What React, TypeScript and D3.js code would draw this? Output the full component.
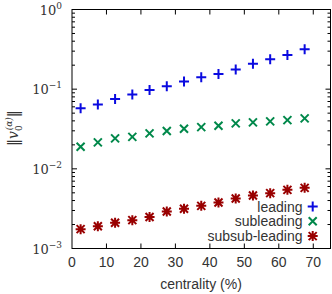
import { useEffect, useRef } from 'react';
import * as d3 from 'd3';

const centrality = [2.5, 7.5, 12.5, 17.5, 22.5, 27.5, 32.5, 37.5, 42.5, 47.5, 52.5, 57.5, 62.5, 67.5];
const leading = [0.0574, 0.0644, 0.0751, 0.086, 0.0975, 0.109, 0.125, 0.141, 0.155, 0.177, 0.209, 0.237, 0.268, 0.316];
const subleading = [0.0189, 0.0215, 0.0241, 0.0252, 0.0279, 0.0298, 0.0318, 0.0334, 0.0347, 0.0372, 0.0383, 0.0394, 0.0409, 0.043];
const subsubleading = [0.00175, 0.0019, 0.0021, 0.00227, 0.00249, 0.00292, 0.00315, 0.00343, 0.00378, 0.00425, 0.00463, 0.00495, 0.00545, 0.00577];
const xTicks = [0, 10, 20, 30, 40, 50, 60, 70];
const yDecades = [-3, -2, -1, 0];
const seriesNames = ['leading', 'subleading', 'subsub-leading'];
const seriesColors = ['#0a0ae0', '#00884a', '#990000'];

export default function App() {
  const svgRef = useRef<SVGSVGElement>(null);

  useEffect(() => {
    if (!svgRef.current) return;
    const svg = d3.select(svgRef.current);
    svg.selectAll('*').remove();

    const left = 72, right = 330.5, top = 9.5, bottom = 248.5;
    const x = d3.scaleLinear().domain([0, 75]).range([left, right]);
    const y = d3.scaleLog().domain([1e-3, 1]).range([bottom, top]);
    const sans = 'Liberation Sans, Arial, sans-serif';

    const g = svg.append('g');

    // minor + major y ticks, both sides
    const ticks = g.append('g').attr('stroke', '#000').attr('stroke-width', 1);
    yDecades.forEach(d => {
      const base = Math.pow(10, d);
      ticks.append('line').attr('x1', left).attr('x2', left + 5).attr('y1', y(base)).attr('y2', y(base));
      ticks.append('line').attr('x1', right).attr('x2', right - 5).attr('y1', y(base)).attr('y2', y(base));
      if (d < 0) {
        for (let m = 2; m <= 9; m++) {
          const v = base * m;
          ticks.append('line').attr('x1', left).attr('x2', left + 3).attr('y1', y(v)).attr('y2', y(v));
          ticks.append('line').attr('x1', right).attr('x2', right - 3).attr('y1', y(v)).attr('y2', y(v));
        }
      }
    });
    xTicks.slice(1).forEach(t => {
      ticks.append('line').attr('x1', x(t)).attr('x2', x(t)).attr('y1', bottom).attr('y2', bottom - 5);
      ticks.append('line').attr('x1', x(t)).attr('x2', x(t)).attr('y1', top).attr('y2', top + 5);
    });

    // frame
    g.append('rect')
      .attr('x', left).attr('y', top)
      .attr('width', right - left).attr('height', bottom - top)
      .attr('fill', 'none').attr('stroke', '#000').attr('stroke-width', 1);

    // y tick labels
    yDecades.forEach(d => {
      const t = g.append('text')
        .attr('x', 62).attr('y', y(Math.pow(10, d)) + 5)
        .attr('text-anchor', 'end')
        .attr('font-family', 'DejaVu Serif, serif')
        .attr('font-size', 13)
        .attr('fill', '#333');
      t.append('tspan').text('10');
      t.append('tspan').attr('dy', -6).attr('font-size', 9).text(d === 0 ? '0' : `\u2212${-d}`);
    });

    // x tick labels
    g.append('g').selectAll('text').data(xTicks).join('text')
      .attr('x', d => x(d)).attr('y', 267)
      .attr('text-anchor', 'middle')
      .attr('font-family', sans)
      .attr('font-size', 14)
      .attr('fill', '#333')
      .text(d => d);

    g.append('text')
      .attr('x', 201).attr('y', 289)
      .attr('text-anchor', 'middle')
      .attr('font-family', sans)
      .attr('font-size', 14)
      .attr('fill', '#333')
      .text('centrality (%)');

    // y label
    const yl = g.append('text')
      .attr('transform', 'translate(18,128) rotate(-90)')
      .attr('text-anchor', 'middle')
      .attr('font-family', 'DejaVu Serif, serif')
      .attr('font-size', 14)
      .attr('fill', '#333');
    yl.append('tspan').text('\u2016');
    yl.append('tspan').attr('font-style', 'italic').text('v');
    yl.append('tspan').attr('font-size', 9).attr('dy', 4).text('0');
    yl.append('tspan').attr('font-size', 9).attr('dy', -10).attr('dx', -5).attr('font-style', 'italic').text('(\u03b1)');
    yl.append('tspan').attr('dy', 6).text('\u2016');

    const markers = [
      (sel: any, c: string) => {
        sel.append('path').attr('d', 'M-5,0H5M0,-5V5').attr('stroke', c).attr('stroke-width', 2).attr('fill', 'none');
      },
      (sel: any, c: string) => {
        sel.append('path').attr('d', 'M-4,-4L4,4M-4,4L4,-4').attr('stroke', c).attr('stroke-width', 2).attr('fill', 'none');
      },
      (sel: any, c: string) => {
        sel.append('path').attr('d', 'M-4,-4L4,4M-4,4L4,-4M-5,0H5M0,-5V5').attr('stroke', c).attr('stroke-width', 2).attr('fill', 'none');
      },
    ];

    [leading, subleading, subsubleading].forEach((vals, i) => {
      vals.forEach((v, j) => {
        const m = g.append('g').attr('transform', `translate(${x(centrality[j])},${y(v)})`);
        markers[i](m, seriesColors[i]);
      });
    });

    // legend
    seriesNames.forEach((name, i) => {
      const ly = 206.5 + i * 14.8;
      g.append('text')
        .attr('x', 302.5).attr('y', ly + 5)
        .attr('text-anchor', 'end')
        .attr('font-family', sans)
        .attr('font-size', 14)
        .attr('fill', '#333')
        .text(name);
      const m = g.append('g').attr('transform', `translate(312.7,${ly})`);
      markers[i](m, seriesColors[i]);
    });
  }, []);

  return (
    <svg ref={svgRef} width={332} height={294}
      style={{ position: 'absolute', left: 0, top: 0, background: '#fff' }} />
  );
}
